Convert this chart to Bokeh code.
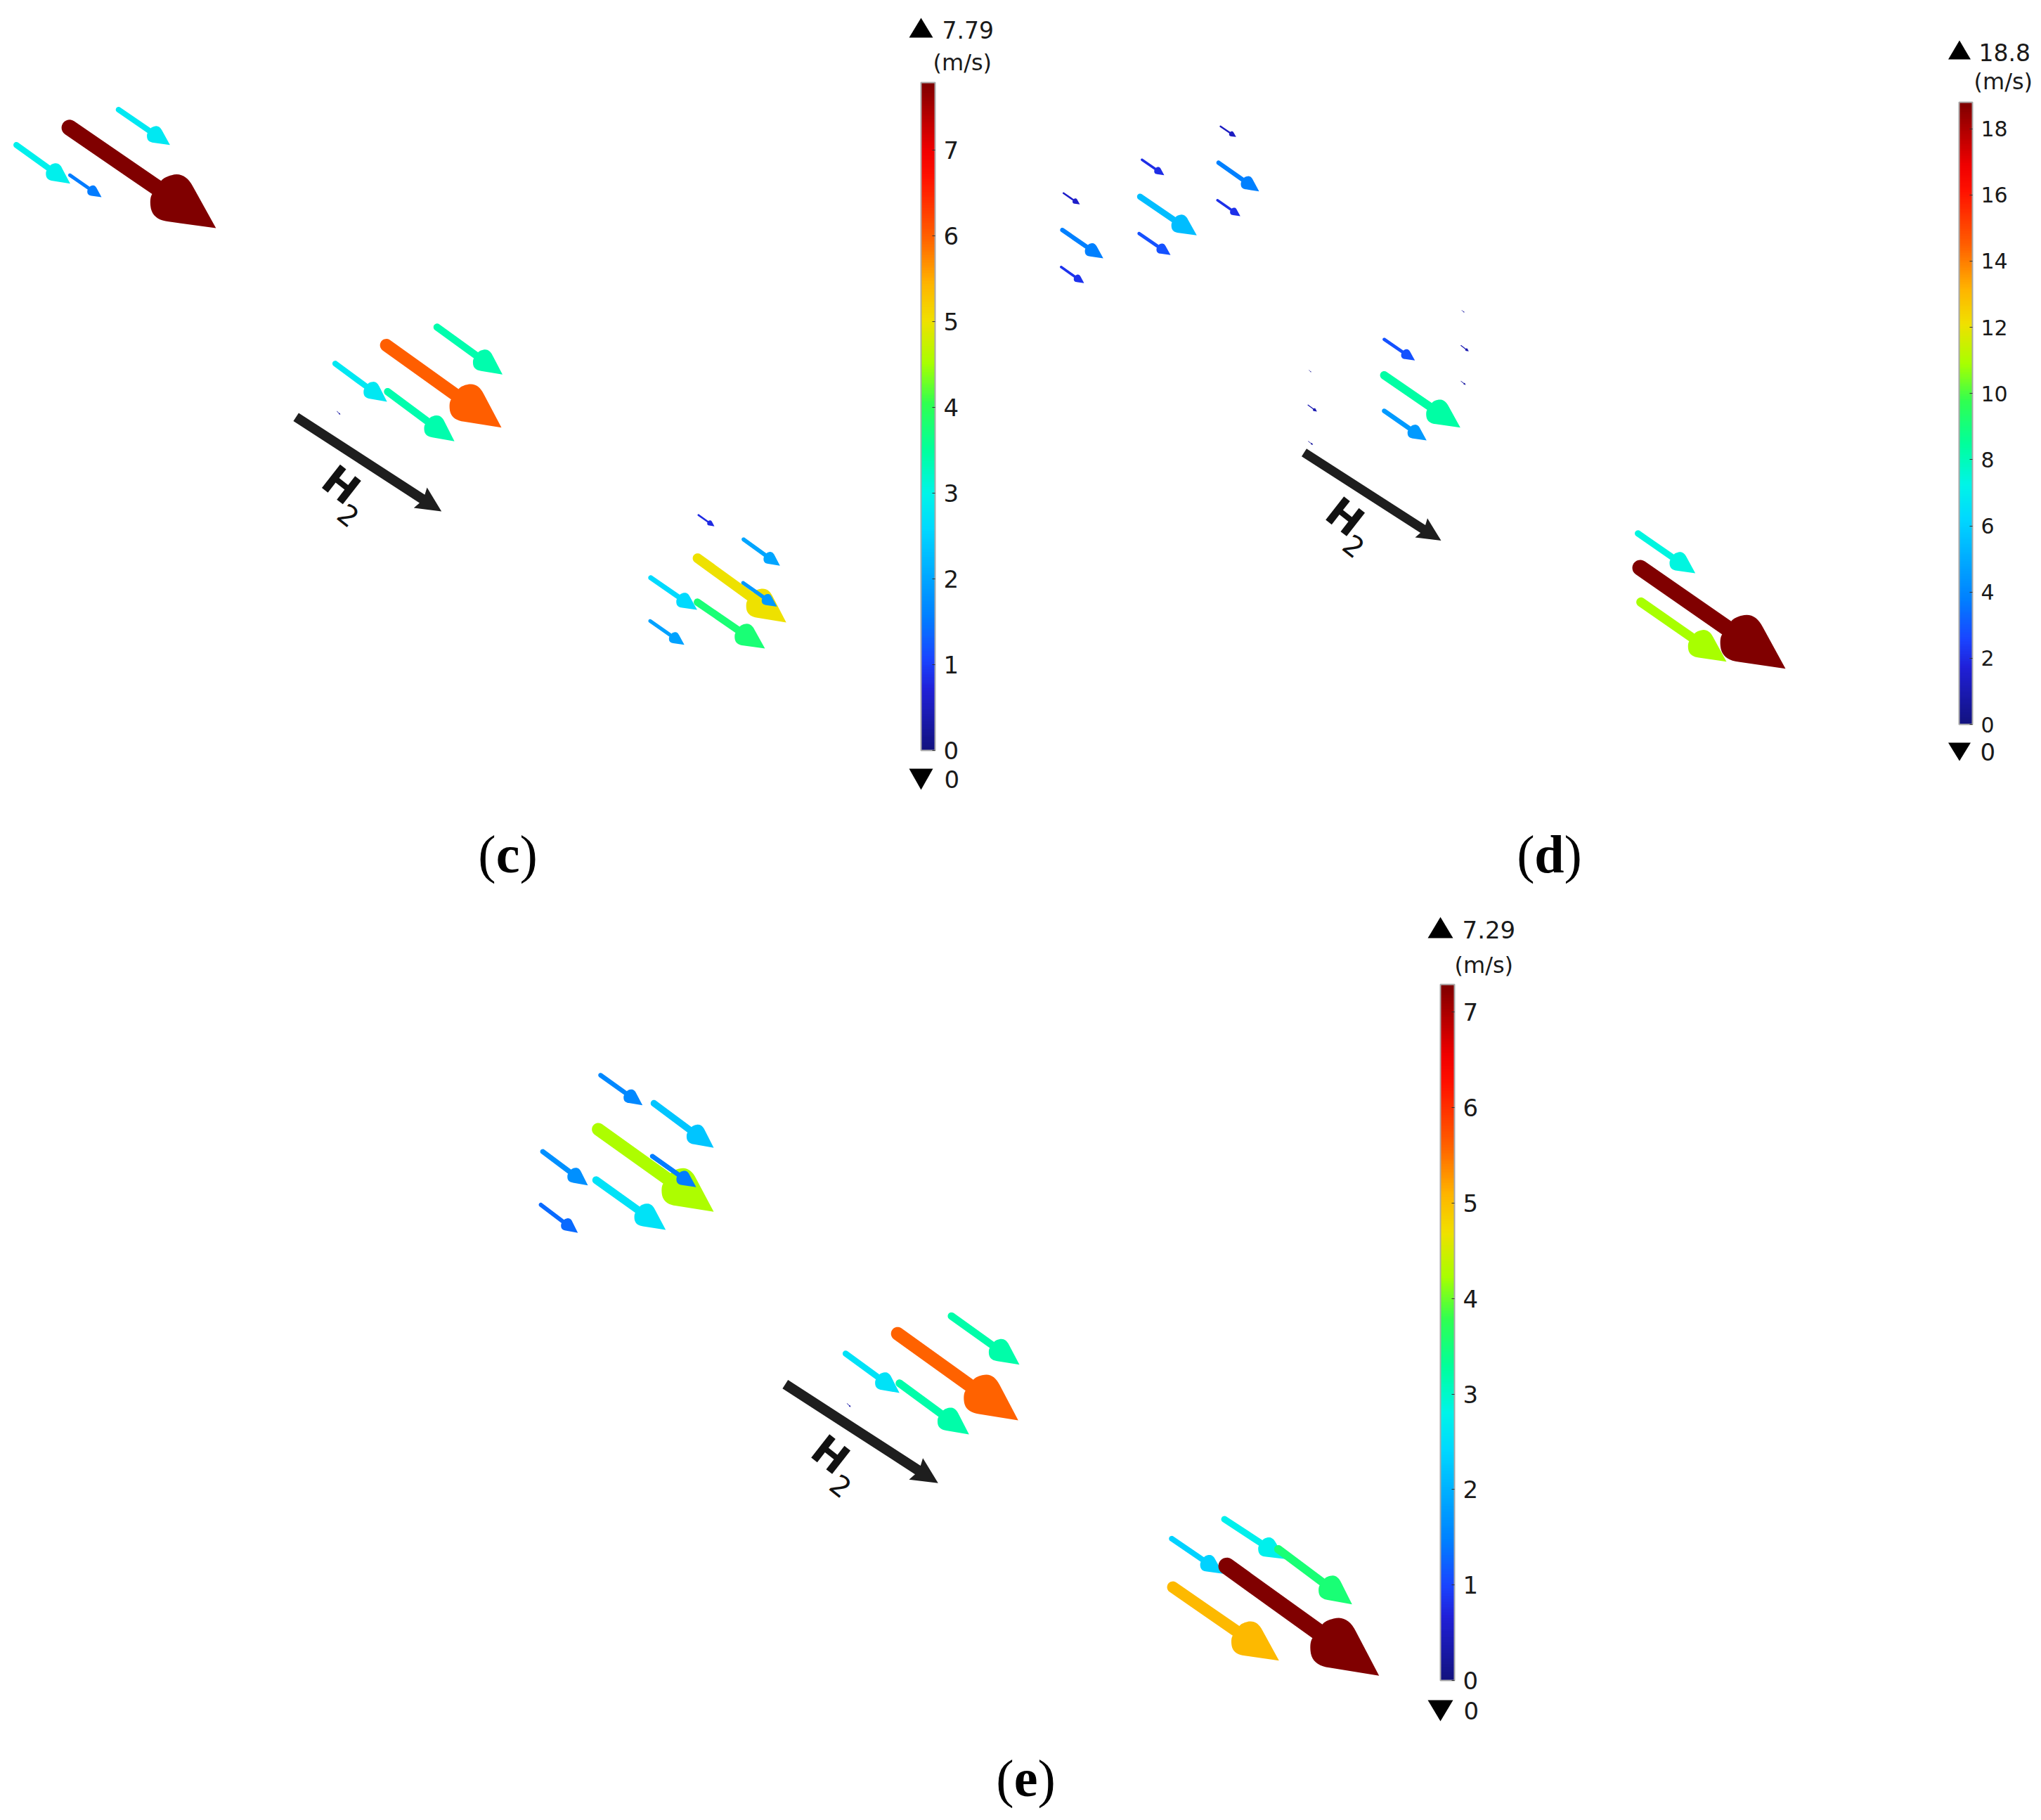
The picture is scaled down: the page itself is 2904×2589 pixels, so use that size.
import math
from bokeh.plotting import figure
from bokeh.models import ColumnDataSource, LinearColorMapper, ColorBar, FixedTicker, Range1d
from bokeh.core.properties import value
from bokeh.embed import file_html
from bokeh.resources import INLINE

# ---- data: arrows in reference pixel coordinates, speed in m/s
c_x0 = [98.4, 168.2, 22.8, 98.9, 621.4, 549.2, 476.5, 551.1, 479.0, 993.2, 1057.5, 992.1, 1056.8, 925.4, 991.8, 924.6]
c_y0 = [181.2, 155.5, 205.7, 248.6, 464.9, 490.6, 516.7, 556.7, 584.5, 732.1, 766.8, 793.6, 828.6, 821.4, 856.1, 882.9]
c_x1 = [306.8, 241.4, 99.4, 144.0, 714.5, 713.0, 550.2, 646.1, 483.8, 1016.0, 1109.3, 1118.2, 1105.0, 991.4, 1087.9, 973.2]
c_y1 = [324.1, 205.7, 260.8, 280.0, 532.2, 607.8, 571.0, 627.3, 589.4, 748.2, 804.3, 885.0, 862.5, 867.1, 922.1, 916.8]
c_speed = [7.79, 2.8, 2.95, 1.55, 3.4, 6.0, 2.8, 3.4, 0.3, 0.8, 2.0, 5.0, 1.85, 2.6, 3.8, 1.95]

d_x0 = [1736.0, 1624.3, 1733.3, 1512.7, 1621.7, 1731.7, 1511.0, 1620.3, 1509.3, 1969.0, 1969.0, 1969.0, 2079.3, 2078.3, 2078.3, 1862.0, 1860.7, 1861.0, 2330.0, 2334.3, 2333.3]
d_y0 = [179.3, 226.7, 231.0, 274.3, 279.3, 284.3, 326.7, 331.7, 379.3, 482.3, 533.3, 584.0, 441.0, 491.0, 541.7, 526.0, 575.7, 627.3, 758.3, 856.0, 807.3]
d_x1 = [1758.3, 1656.0, 1791.0, 1536.0, 1702.3, 1764.3, 1569.3, 1665.0, 1542.0, 2012.7, 2077.3, 2029.3, 2083.3, 2089.3, 2085.0, 1865.3, 1873.3, 1867.7, 2411.7, 2456.0, 2540.0]
d_y1 = [194.3, 248.7, 271.7, 290.3, 334.3, 307.0, 367.0, 362.3, 402.3, 512.3, 607.7, 626.0, 444.0, 499.3, 547.0, 529.0, 585.0, 632.3, 815.0, 940.7, 950.7]
d_speed = [1.3, 2.0, 3.8, 1.4, 5.5, 2.1, 3.8, 2.8, 2.2, 2.8, 8.3, 4.5, 0.6, 1.0, 0.7, 0.5, 1.0, 0.6, 7.4, 10.9, 18.8]

e_x0 = [854.0, 930.0, 850.7, 927.7, 771.7, 847.7, 769.0, 1353.3, 1276.7, 1202.7, 1279.3, 1204.7, 1741.7, 1818.3, 1666.7, 1745.0, 1668.3]
e_y0 = [1529.0, 1569.0, 1606.0, 1644.3, 1637.7, 1678.3, 1713.3, 1871.7, 1896.7, 1925.0, 1967.3, 1996.0, 2160.7, 2203.3, 2188.3, 2227.3, 2257.3]
e_x1 = [913.7, 1015.0, 1015.0, 990.0, 836.0, 946.7, 821.7, 1450.0, 1448.3, 1279.3, 1378.3, 1210.0, 1828.3, 1923.3, 1740.0, 1961.7, 1819.3]
e_y1 = [1571.7, 1632.3, 1723.3, 1688.3, 1685.7, 1749.0, 1753.3, 1940.7, 2020.0, 1981.0, 2040.0, 2001.0, 2217.3, 2281.7, 2238.3, 2383.3, 2361.7]
e_speed = [1.55, 2.2, 4.25, 1.45, 1.65, 2.55, 1.3, 3.2, 5.6, 2.55, 3.2, 0.3, 2.75, 3.55, 2.35, 7.29, 5.05]

inlet_x0 = [420.7, 1855.0, 1116.8]
inlet_y0 = [592.7, 643.3, 1968.7]
inlet_x1 = [627.7, 2050.0, 1334.3]
inlet_y1 = [727.0, 768.6, 2109.3]

c_ticks = [0, 1, 2, 3, 4, 5, 6, 7]
d_ticks = [0, 2, 4, 6, 8, 10, 12, 14, 16, 18]
e_ticks = [0, 1, 2, 3, 4, 5, 6, 7]
max_labels = ["7.79", "18.8", "7.29"]
min_labels = ["0", "0", "0"]
unit_label = "(m/s)"
panel_letters = ["c", "d", "e"]

# ---- styling
stops = [(0, "#12127f"), (.09, "#2020d8"), (.135, "#1a44ff"), (.20, "#0080ff"), (.26, "#00a8ff"),
         (.33, "#00d8ff"), (.385, "#00f4e8"), (.45, "#00ff9c"), (.52, "#30ff50"), (.58, "#a8ff00"),
         (.645, "#f0e000"), (.70, "#ffb400"), (.77, "#ff6000"), (.86, "#ff1000"), (.90, "#f00000"),
         (1, "#800000")]

def rgb(h):
    return [int(h[i:i + 2], 16) for i in (1, 3, 5)]

def make_palette(n=256):
    out = []
    for k in range(n):
        t = k / (n - 1)
        for (a, ca), (b, cb) in zip(stops, stops[1:]):
            if a <= t <= b:
                f = (t - a) / (b - a)
                ra, rb = rgb(ca), rgb(cb)
                out.append("#%02x%02x%02x" % tuple(round(p + (q - p) * f) for p, q in zip(ra, rb)))
                break
    return out

PALETTE = make_palette()
TEXT = "#1a1a1a"
FONT = value("DejaVu Sans")

def bez(p0, c, p1, n=10):
    return [((1 - s) ** 2 * p0[0] + 2 * s * (1 - s) * c[0] + s * s * p1[0],
             (1 - s) ** 2 * p0[1] + 2 * s * (1 - s) * c[1] + s * s * p1[1])
            for s in [i / n for i in range(n + 1)]]

def to_world(pts, x1, y1, dx, dy, L):
    return ([x1 + L * (u * dx - v * dy) for u, v in pts],
            [y1 + L * (u * dy + v * dx) for u, v in pts])

def flow_arrow(x0, y0, x1, y1):
    L = math.hypot(x1 - x0, y1 - y0)
    dx, dy = (x1 - x0) / L, (y1 - y0) / L
    r = 0.045
    side = bez((-.24, .12), (-.325, .165), (-.375, .105)) + bez((-.375, .105), (-.405, .07), (-.405, r))[1:]
    pts = [(0, 0)] + side
    for i in range(13):
        a = math.pi / 2 + math.pi * i / 12
        pts.append((-1 + r * math.cos(a), r * math.sin(a)))
    pts += [(u, -v) for u, v in reversed(side)]
    return to_world(pts, x1, y1, dx, dy, L)

def inlet_arrow(x0, y0, x1, y1):
    L = math.hypot(x1 - x0, y1 - y0)
    dx, dy = (x1 - x0) / L, (y1 - y0) / L
    r, hl, hw = .028, .145, .07
    pts = [(0, 0), (-hl, hw), (-hl + .012, r), (-1, r), (-1, -r), (-hl + .012, -r), (-hl, -hw)]
    return to_world(pts, x1, y1, dx, dy, L)

W, H = 2896, 2573
p = figure(width=W, height=H, output_backend="svg", toolbar_location=None,
           x_range=Range1d(0, W), y_range=Range1d(H, 0),
           min_border=0, min_border_left=0, min_border_right=0, min_border_top=0, min_border_bottom=0,
           outline_line_color=None)
p.axis.visible = False
p.grid.visible = False

def scale_panel(x0, y0, x1, y1, speed, vmax, ticks, bar_x, bar_w, bar_top, bar_bottom, fs, tri):
    xs, ys = [], []
    for a, b, c, d in zip(x0, y0, x1, y1):
        ox, oy = flow_arrow(a, b, c, d)
        xs.append(ox)
        ys.append(oy)
    mapper = LinearColorMapper(palette=PALETTE, low=0, high=vmax)
    src = ColumnDataSource(dict(xs=xs, ys=ys, speed=speed))
    p.patches("xs", "ys", source=src, fill_color={"field": "speed", "transform": mapper}, line_color=None)
    cb = ColorBar(color_mapper=mapper, ticker=FixedTicker(ticks=ticks),
                  width=bar_w, height=bar_bottom - bar_top, padding=0,
                  location=(bar_x, H - bar_bottom),
                  major_label_text_font="DejaVu Sans", major_label_text_font_size=f"{fs}px",
                  major_label_text_color=TEXT, label_standoff=12,
                  major_tick_line_color="#333333", major_tick_in=4, major_tick_line_width=1,
                  minor_tick_line_color=None, bar_line_color="#a8a8a8", bar_line_width=2,
                  background_fill_color=None, border_line_color=None)
    p.add_layout(cb)
    cx, tw, up, down = tri
    p.patches([[cx - tw, cx + tw, cx], [cx - tw, cx + tw, cx]],
              [[up[1], up[1], up[0]], [down[0], down[0], down[1]]],
              fill_color="#000000", line_color=None)

scale_panel(c_x0, c_y0, c_x1, c_y1, c_speed, 7.79, c_ticks, 1310, 20, 117, 1067, 34, (1310, 17, (25, 53), (1093, 1123)))
scale_panel(d_x0, d_y0, d_x1, d_y1, d_speed, 18.8, d_ticks, 2787, 19, 145, 1030, 30, (2787.5, 16, (57, 84), (1056, 1082)))
scale_panel(e_x0, e_y0, e_x1, e_y1, e_speed, 7.29, e_ticks, 2049, 20, 1400, 2390, 34, (2049, 18, (1304, 1334), (2418, 2448)))

ix, iy = [], []
for a, b, c, d in zip(inlet_x0, inlet_y0, inlet_x1, inlet_y1):
    ox, oy = inlet_arrow(a, b, c, d)
    ix.append(ox)
    iy.append(oy)
p.patches(ix, iy, fill_color="#1e1e1e", line_color=None)

# max / min / unit texts
p.text([1340, 2815], [42, 74], text=max_labels[:2], text_font=FONT, text_font_size="33px",
       text_color=TEXT, text_baseline="middle", text_align="left")
p.text([2080], [1322], text=max_labels[2:], text_font=FONT, text_font_size="34px",
       text_color=TEXT, text_baseline="middle", text_align="left")
p.text([1327, 2808, 2069], [88, 115, 1372], text=[unit_label] * 3, text_font=FONT, text_font_size="32px",
       text_color=TEXT, text_baseline="middle", text_align="left")
p.text([1343, 2817, 2082], [1108, 1069, 2433], text=min_labels, text_font=FONT, text_font_size="34px",
       text_color=TEXT, text_baseline="middle", text_align="left")

# H2 labels, rotated with the inlet arrow
ang = -math.radians(38)
p.text([484.7, 1913, 1181], [689.4, 735, 2069], text=["H"] * 3, text_font=FONT, text_font_size="58px", angle=ang,
       text_font_style="bold", text_color="#111111", text_baseline="middle", text_align="center")
p.text([495.4, 1926, 1196], [732.2, 776, 2113], text=["2"] * 3, text_font=FONT, text_font_size="40px", angle=ang,
       text_color="#111111", text_baseline="middle", text_align="center")

# panel letters
for cx, cy, letter in zip([722, 2204, 1459], [1214, 1214, 2529], panel_letters):
    half = {"c": 17, "d": 21, "e": 17}[letter]
    p.text([cx], [cy], text=[letter], text_font=value("Liberation Serif"), text_font_size="76px",
           text_font_style="bold", text_color="#000000", text_baseline="middle", text_align="center")
    p.text([cx - half], [cy], text=["("], text_font=value("Liberation Serif"), text_font_size="76px",
           text_color="#000000", text_baseline="middle", text_align="right")
    p.text([cx + half], [cy], text=[")"], text_font=value("Liberation Serif"), text_font_size="76px",
           text_color="#000000", text_baseline="middle", text_align="left")

open("out.html", "w").write(file_html(p, INLINE))
